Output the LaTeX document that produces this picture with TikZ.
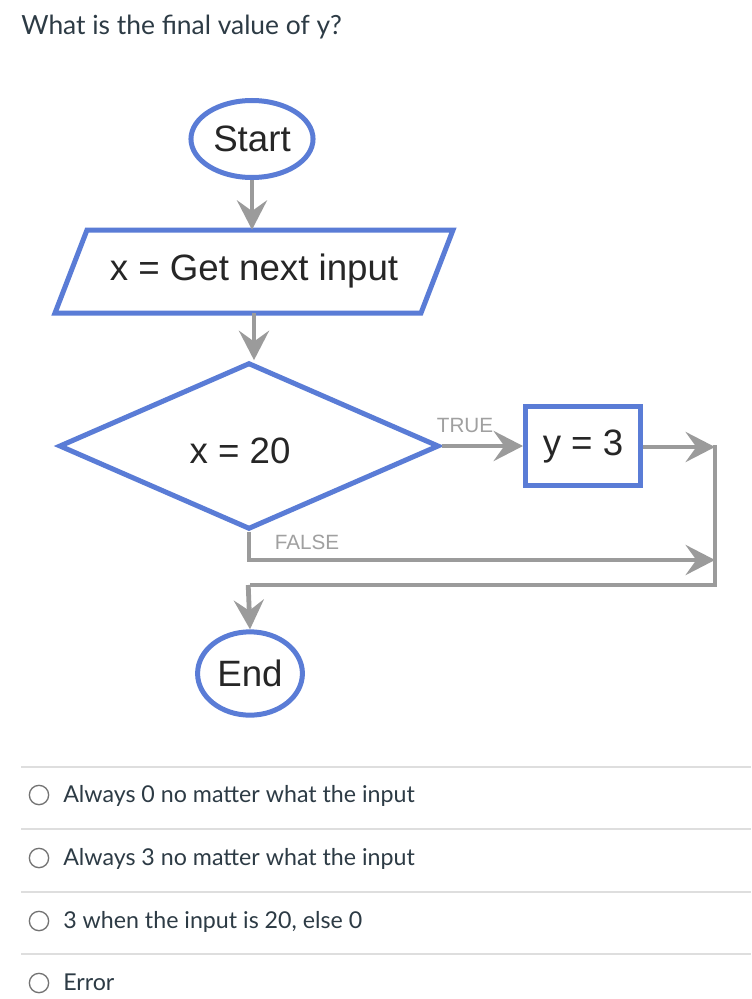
\documentclass[tikz,border=0pt]{standalone}
\usepackage{fontspec}
\usetikzlibrary{arrows.meta,shapes.geometric}
\newfontfamily\latofont{Lato}
\newfontfamily\diafont{Liberation Sans}
\definecolor{flowblue}{RGB}{90,124,214}
\definecolor{flowgrey}{RGB}{155,155,155}
\definecolor{labelgrey}{RGB}{160,160,160}
\definecolor{canvastext}{RGB}{45,59,69}
\definecolor{sepgrey}{RGB}{222,222,222}
\definecolor{radiogrey}{RGB}{115,115,115}
\begin{document}
\begin{tikzpicture}[x=0.75pt,y=-0.75pt,
  shapeline/.style={draw=flowblue, line width=3.75pt, fill=white},
  flowtext/.style={font=\diafont\fontsize{27.5}{30}\selectfont, text=black!85},
  smalllabel/.style={font=\diafont\fontsize{15.5}{17}\selectfont, text=labelgrey, inner sep=0pt},
  conn/.style={draw=flowgrey, line width=3.6pt, line join=miter},
  arr/.style={conn, -{Stealth[length=22pt,width=22.5pt,inset=8pt]}},
  question/.style={font=\latofont\fontsize{19.8}{23}\selectfont, text=canvastext, inner sep=0pt, anchor=base west},
  answer/.style={font=\latofont\fontsize{17.4}{20}\selectfont, text=canvastext, inner sep=0pt, anchor=base west},
  radio/.style={circle, draw=radiogrey, line width=1pt, minimum size=14.5pt, inner sep=0pt},
  sep/.style={draw=sepgrey, line width=0.8pt}
]
\useasboundingbox (0,0) rectangle (751,999);
\fill[white] (0,0) rectangle (751,999);

% question
\node[question] (q) at (21,35) {What is the final value of y?};

% start
\node[shapeline, ellipse, minimum width=86.25pt, minimum height=57.75pt, flowtext] (start) at (252,139) {Start};

% input parallelogram
\coordinate (ptl) at (87,230);
\coordinate (ptr) at (453,230);
\coordinate (pbr) at (421,313);
\coordinate (pbl) at (55,313);
\draw[shapeline, line join=miter] (ptl) -- (ptr) -- (pbr) -- (pbl) -- cycle;
\node[flowtext, minimum height=62.25pt, inner sep=0pt] (input) at (254,271.5) {x = Get next input};

% decision
\node[shapeline, diamond, minimum width=285pt, minimum height=125pt, inner sep=0pt] (dec) at (249,446) {};
\node[flowtext] (dectext) at (240,451) {x = 20};

% y = 3 box
\node[shapeline, rectangle, minimum width=86.25pt, minimum height=59.25pt, flowtext] (ybox) at (583,446) {y = 3};

% end
\node[shapeline, ellipse, minimum width=76.5pt, minimum height=62.5pt, flowtext] (end) at (250,673.5) {End};

% connectors
\coordinate (rtop) at (715,447);
\coordinate (rbot) at (715,585);
\coordinate (lbot) at (250,585);
\coordinate (fend) at (715,560);

\draw[arr] (start.south) -- (start.south |- input.north);
\draw[arr] (input.south) -- (input.south |- dec.north);
\draw[arr] (dec.east) -- (ybox.west);
\node[smalllabel, anchor=base] (truelbl) at (465,432) {TRUE};
\draw[arr] (ybox.east |- rtop) -- (rtop);
\draw[conn] ([yshift=1.5pt]rtop) -- (rbot) -- (lbot -| end.north);
\draw[arr] ([xshift=-1.35pt]lbot -| end.north) -- (end.north);
\draw[arr] (dec.south) -- (dec.south |- fend) -- (fend);
\node[smalllabel, anchor=base] (falselbl) at (307,549) {FALSE};

% answers
\draw[sep] (21,767) -- (751,767);
\draw[sep] (21,829) -- (751,829);
\draw[sep] (21,892) -- (751,892);
\draw[sep] (21,954) -- (751,954);

\node[radio] (r1) at (39,795) {};
\node[radio] (r2) at (39,858) {};
\node[radio] (r3) at (39,921) {};
\node[radio] (r4) at (39,983) {};
\node[answer] (a1) at (63,802) {Always 0 no matter what the input};
\node[answer] (a2) at (63,865) {Always 3 no matter what the input};
\node[answer] (a3) at (63,928) {3 when the input is 20, else 0};
\node[answer] (a4) at (63,990) {Error};
\end{tikzpicture}
\end{document}
